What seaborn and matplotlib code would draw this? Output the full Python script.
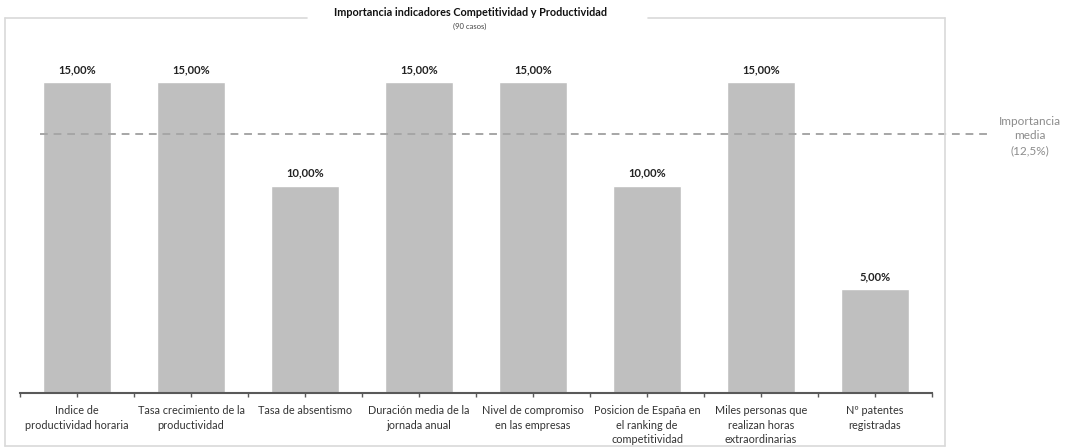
import matplotlib
matplotlib.use("Agg")
import matplotlib.pyplot as plt
import seaborn as sns
import pandas as pd
from matplotlib.lines import Line2D

# Data
categories = [
    "Indice de\nproductividad horaria",
    "Tasa crecimiento de la\nproductividad",
    "Tasa de absentismo",
    "Duración media de la\njornada anual",
    "Nivel de compromiso\nen las empresas",
    "Posicion de España en\nel ranking de\ncompetitividad",
    "Miles personas que\nrealizan horas\nextraordinarias",
    "Nº patentes\nregistradas",
]
values = [0.15, 0.15, 0.10, 0.15, 0.15, 0.10, 0.15, 0.05]
mean_importance = 0.125
title = "Importancia indicadores Competitividad y Productividad"
subtitle = "(90 casos)"

df = pd.DataFrame({"indicador": categories, "importancia": values})

sns.set_style("white")
plt.rcParams["font.family"] = ["Lato", "DejaVu Sans"]

W, H = 1077, 447
fig = plt.figure(figsize=(W / 100, H / 100), dpi=100)

# axes placed in pixel coords: x 20..932, baseline y=393
ax = fig.add_axes([20 / W, (H - 393) / H, 912 / W, 331.7 / H])
sns.barplot(data=df, x="indicador", y="importancia", color="#bfbfbf",
            width=0.59, saturation=1, ax=ax)
ax.set_xlim(-0.5, len(categories) - 0.5)
ax.set_ylim(0, 0.16)

labels = [f"{v * 100:.2f}".replace(".", ",") + "%" for v in values]
ax.bar_label(ax.containers[0], labels=labels, padding=5, fontsize=8,
             fontweight="bold", color="#222222")

# mean dashed line extending beyond the axes
ax.plot([-0.325, 8.03], [mean_importance, mean_importance], ls=(0, (4, 3)),
        color="#a6a6a6", lw=1.4, clip_on=False)
ax.text(8.36, mean_importance - 0.001, "Importancia\nmedia\n(12,5%)",
        ha="center", va="center", fontsize=8.5, color="#8c8c8c",
        linespacing=1.4)

# axes styling
for s in ["top", "right", "left"]:
    ax.spines[s].set_visible(False)
ax.spines["bottom"].set_color("#595959")
ax.spines["bottom"].set_linewidth(1.5)
ax.set_yticks([])
ax.set_xlabel("")
ax.set_ylabel("")
ax.set_xticks(range(len(categories)))
ax.set_xticklabels(categories, fontsize=7.8, color="#333333", linespacing=1.35)
ax.set_xticks([i - 0.5 for i in range(len(categories) + 1)], minor=True)
ax.tick_params(axis="x", which="both", direction="out", length=3,
               width=1, color="#595959", bottom=True, pad=6)

# title
fig.text(470 / W, 1 - 13 / H, title, ha="center", va="center", fontsize=7.8,
         fontweight="bold", color="#111111")
fig.text(470 / W, 1 - 26 / H, subtitle, ha="center", va="center", fontsize=5.5,
         color="#444444")

# outer frame with gap around title
fc = "#d9d9d9"
def fline(x0, y0, x1, y1):
    fig.add_artist(Line2D([x0 / W, x1 / W], [1 - y0 / H, 1 - y1 / H],
                          color=fc, lw=1.2))
fline(5, 18, 5, 446)
fline(5, 18, 307, 18)
fline(648, 18, 945, 18)
fline(945, 18, 945, 446)
fline(5, 446, 945, 446)

fig.savefig("out.png", dpi=100)
